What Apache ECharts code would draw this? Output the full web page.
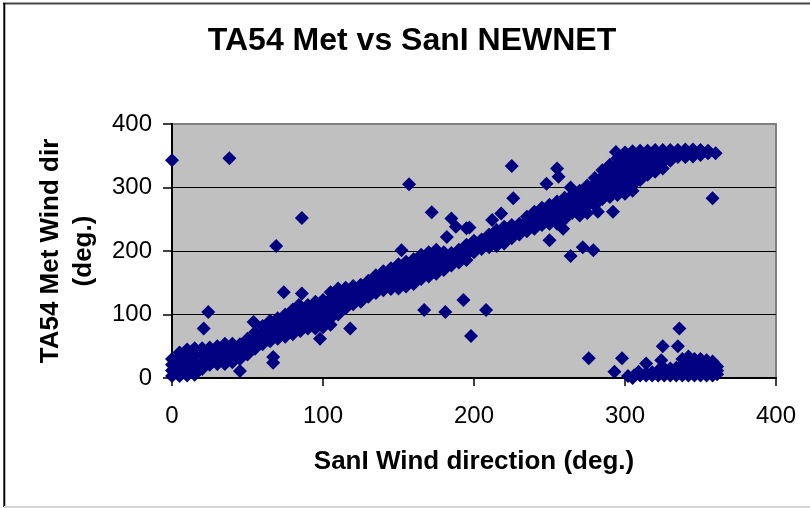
<!DOCTYPE html>
<html>
<head>
<meta charset="utf-8">
<script src="https://cdn.jsdelivr.net/npm/echarts@6/dist/echarts.min.js"></script>
<style>
  html, body { margin: 0; padding: 0; background: #fff; }
  #chart { width: 810px; height: 508px; }
</style>
</head>
<body>
<div id="chart"></div>
<script>
// ---- data ----
const titleText = 'TA54 Met vs SanI NEWNET';
const xAxisName = 'SanI Wind direction (deg.)';
const yAxisName = 'TA54 Met Wind dir\n(deg.)';
const xTicks = [0, 100, 200, 300, 400];
const yTicks = [0, 100, 200, 300, 400];

// main diagonal band: [SanI dir, TA54 dir]
const bandPoints = [
  [0,3],[0,12],[0,21],[0,30],
  [5,3],[5,13],[5,23],[5,33],[5,40],
  [10,4],[10,14],[10,24],[10,34],[10,45],
  [15,5],[15,15],[15,25],[15,36],[15,47],
  [20,14],[20,25],[20,36],[20,47],
  [25,21],[25,30],[25,39],[25,48],
  [30,22],[30,31],[30,40],[30,50],
  [35,22],[35,32],[35,43],[35,54],
  [40,25],[40,35],[40,45],[40,54],
  [45,30],[45,38],[45,46],[45,53],
  [50,37],[50,45],[50,54],[50,62],
  [55,46],[55,55],[55,63],[55,72],
  [60,53],[60,63],[60,72],[60,82],
  [65,58],[65,69],[65,79],[65,90],
  [70,62],[70,73],[70,84],[70,94],
  [75,65],[75,74],[75,83],[75,92],[75,100],
  [80,69],[80,79],[80,89],[80,98],[80,108],
  [85,74],[85,84],[85,94],[85,104],[85,113],
  [90,78],[90,87],[90,96],[90,106],[90,115],
  [95,78],[95,88],[95,99],[95,110],[95,120],
  [100,80],[100,91],[100,101],[100,112],[100,123],
  [105,84],[105,94],[105,104],[105,115],[105,125],[105,135],
  [110,100],[110,110],[110,120],[110,131],[110,141],
  [115,110],[115,118],[115,126],[115,134],[115,142],
  [120,116],[120,126],[120,136],[120,145],
  [125,120],[125,129],[125,138],[125,147],
  [130,128],[130,136],[130,145],[130,153],
  [135,134],[135,143],[135,153],[135,162],
  [140,138],[140,148],[140,158],[140,168],
  [145,140],[145,148],[145,157],[145,165],[145,173],
  [150,141],[150,151],[150,160],[150,170],[150,179],
  [155,144],[155,154],[155,164],[155,174],[155,183],
  [160,148],[160,158],[160,168],[160,178],[160,187],
  [165,156],[165,166],[165,175],[165,185],[165,194],
  [170,160],[170,170],[170,179],[170,189],[170,198],
  [175,164],[175,174],[175,183],[175,193],[175,202],
  [180,170],[180,180],[180,189],[180,198],
  [185,177],[185,187],[185,197],
  [190,182],[190,192],[190,202],
  [195,186],[195,194],[195,202],[195,210],
  [200,198],[200,207],[200,216],
  [205,203],[205,211],[205,218],
  [210,206],[210,216],[210,226],
  [215,208],[215,216],[215,225],[215,233],
  [220,212],[220,221],[220,230],[220,238],
  [225,220],[225,230],[225,241],
  [230,226],[230,235],[230,243],
  [235,231],[235,239],[235,247],[235,254],
  [240,235],[240,244],[240,253],[240,262],
  [245,241],[245,250],[245,259],[245,268],
  [250,243],[250,253],[250,263],[250,273],
  [255,243],[255,252],[255,260],[255,269],[255,278],
  [260,250],[260,259],[260,267],[260,276],[260,284],
  [265,260],[265,269],[265,279],[265,288],
  [270,256],[270,266],[270,276],[270,286],[270,295],
  [275,260],[275,271],[275,282],[275,293],[275,303],
  [280,272],[280,281],[280,290],[280,298],[280,306],[280,315],
  [285,282],[285,290],[285,299],[285,308],[285,317],[285,327],
  [290,285],[290,293],[290,302],[290,310],[290,319],[290,327],[290,336],
  [295,288],[295,296],[295,305],[295,313],[295,321],[295,330],[295,338],[295,346],
  [300,290],[300,299],[300,308],[300,317],[300,326],[300,335],[300,345],[300,355],
  [305,295],[305,304],[305,313],[305,322],[305,331],[305,340],[305,349],[305,357],
  [310,312],[310,321],[310,330],[310,340],[310,349],[310,358],
  [315,320],[315,330],[315,339],[315,349],[315,358],
  [320,325],[320,334],[320,342],[320,351],[320,359],
  [325,330],[325,340],[325,350],[325,359],
  [330,342],[330,350],[330,359],
  [335,348],[335,359],
  [340,348],[340,354],[340,360],
  [345,349],[345,355],[345,360],
  [350,351],[350,359],
  [355,354],[355,358],
  [360,354]
];

// points wrapped around north (SanI ~300-360, TA54 ~0-40)
const wrapPoints = [
  [302,3],[306,4],[310,4],[314,4],[314,8],[318,4],[318,9],[322,4],[322,12],
  [326,4],[326,10],[326,15],[330,4],[330,10],[330,15],[334,4],[334,10],[334,16],
  [338,4],[338,12],[338,21],[338,30],[342,4],[342,12],[342,21],[342,30],[342,34],
  [346,4],[346,12],[346,21],[346,30],[350,4],[350,12],[350,21],[350,30],
  [354,4],[354,12],[354,20],[354,28],[358,4],[358,12],[358,20],[358,26],
  [361,6],[361,12],[361,18]
];

// scattered outliers
const outlierPoints = [
  [0,343],[38,346],[86,252],[69,208],[74,135],[86,133],[84,115],[24,104],[21,78],
  [54,88],[67,33],[67,24],[45,11],[118,78],[98,62],[152,201],[157,305],[172,261],
  [167,107],[181,104],[193,123],[208,107],[198,66],[185,251],[188,238],[197,237],
  [182,222],[195,236],[212,249],[218,259],[225,334],[226,283],[248,306],[255,330],
  [256,317],[264,300],[250,217],[259,235],[264,192],[272,206],[279,201],[282,262],
  [292,262],[294,356],[358,283],[276,31],[298,31],[293,10],[305,0],[309,10],
  [314,23],[324,28],[325,50],[335,50],[336,78]
];

const FONT = '"Liberation Sans", Arial, sans-serif';
const chart = echarts.init(document.getElementById('chart'), null, { renderer: 'canvas' });

chart.setOption({
  animation: false,
  backgroundColor: '#ffffff',
  title: {
    text: titleText,
    left: 412,
    top: 25,
    padding: 0,
    textAlign: 'center',
    textStyle: { fontFamily: FONT, fontSize: 32, fontWeight: 'bold', color: '#000' }
  },
  graphic: [
    { type: 'line', shape: { x1: 3, y1: 3.5, x2: 810, y2: 3.5 }, style: { stroke: '#444', lineWidth: 2 }, silent: true },
    { type: 'line', shape: { x1: 4.3, y1: 3, x2: 4.3, y2: 507 }, style: { stroke: '#000', lineWidth: 2 }, silent: true },
    { type: 'line', shape: { x1: 4, y1: 507, x2: 810, y2: 507 }, style: { stroke: '#d4d4d4', lineWidth: 2 }, silent: true }
  ],
  grid: {
    left: 172, top: 124, width: 604, height: 254,
    show: true, backgroundColor: '#C0C0C0', borderColor: '#808080', borderWidth: 2,
    containLabel: false
  },
  xAxis: {
    type: 'value', min: 0, max: 400, interval: 100,
    name: xAxisName, nameLocation: 'middle', nameGap: 71,
    nameTextStyle: { fontFamily: FONT, fontSize: 26, fontWeight: 'bold', color: '#000' },
    axisLine: { show: true, onZero: false, lineStyle: { color: '#000', width: 2 } },
    axisTick: { show: true, inside: false, length: 8, lineStyle: { color: '#000', width: 1.5 } },
    axisLabel: { fontFamily: FONT, fontSize: 24, color: '#000', margin: 26,
      formatter: v => xTicks.includes(v) ? String(v) : '' },
    splitLine: { show: false }
  },
  yAxis: {
    type: 'value', min: 0, max: 400, interval: 100,
    name: yAxisName, nameLocation: 'middle', nameGap: 72, nameRotate: 90,
    nameTextStyle: { fontFamily: FONT, fontSize: 26, fontWeight: 'bold', color: '#000', lineHeight: 33, align: 'center' },
    axisLine: { show: true, onZero: false, lineStyle: { color: '#000', width: 2 } },
    axisTick: { show: true, inside: false, length: 9, lineStyle: { color: '#000', width: 1.5 } },
    axisLabel: { fontFamily: FONT, fontSize: 24, color: '#000', margin: 20,
      formatter: v => yTicks.includes(v) ? String(v) : '' },
    splitLine: { show: true, showMinLine: false, showMaxLine: false, lineStyle: { color: '#000', width: 1 } }
  },
  series: [{
    type: 'scatter',
    data: bandPoints.concat(wrapPoints, outlierPoints),
    symbol: 'diamond',
    symbolSize: 14,
    clip: false,
    itemStyle: { color: '#000080', opacity: 1 },
    emphasis: { disabled: true }
  }]
});
</script>
</body>
</html>
